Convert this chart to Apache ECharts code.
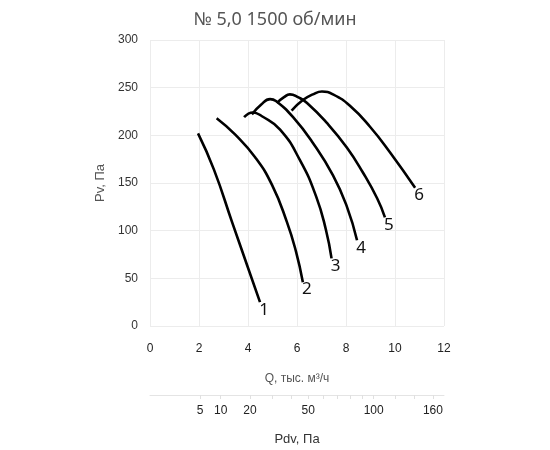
<!DOCTYPE html>
<html><head><meta charset="utf-8">
<script src="https://cdn.jsdelivr.net/npm/echarts@6/dist/echarts.min.js"></script>
<style>html,body{margin:0;padding:0;background:#fff}#c{width:550px;height:450px}</style>
</head><body><div id="c"></div>
<script>
const titleText = '№ 5,0 1500 об/мин';
const curveNames = ['1','2','3','4','5','6'];
const curve1 = [[1.96,202],[2.61,164],[3.35,109],[3.96,64],[4.49,25]];
const curve2 = [[2.72,218],[3.47,201],[4.29,177],[4.98,148],[5.59,109],[5.96,78],[6.24,46]];
const curve3 = [[3.84,219],[4.20,224],[4.57,220],[5.31,206],[6.12,174],[6.78,136],[7.18,101],[7.41,71]];
const curve4 = [[4.16,222],[4.53,232],[4.90,238],[5.14,236],[5.84,219],[6.65,192],[7.47,158],[8.04,125],[8.45,90]];
const curve5 = [[5.18,234],[5.47,240],[5.71,243],[6.04,240],[6.41,234],[7.22,213],[8.04,187],[8.69,161],[9.27,134],[9.59,114]];
const curve6 = [[5.78,226],[6.24,237],[6.65,243],[7.02,246],[7.47,243],[8.16,231],[8.98,209],[9.80,182],[10.82,145]];
const curves = [curve1,curve2,curve3,curve4,curve5,curve6];
const pdvLabels = [5,10,20,50,100,160];
const pdvTicks = [5,10,20,30,40,50,60,70,80,90,100,120,140,160];
const pdvK = 1.2; // Pdv = k * Q^2
const qOf = p => Math.sqrt(p / pdvK);

const chart = echarts.init(document.getElementById('c'));
const series = curves.map((c, i) => ({
  type: 'line', xAxisIndex: 0, yAxisIndex: 0, smooth: 0.5,
  symbol: 'circle', symbolSize: 0.01, showSymbol: true, showAllSymbol: true,
  itemStyle: {color: 'rgba(0,0,0,0)'},
  lineStyle: {color: '#000', width: 2.6},
  label: {show: false},
  data: c.map((p, j) => j === c.length - 1 ? {
    value: p,
    label: {show: true, formatter: curveNames[i], position: 'bottom', distance: 0, offset: [4, -1],
      color: '#111', fontSize: 17, fontFamily: 'Noto Sans'}
  } : p),
  silent: true, animation: false
}));
chart.setOption({
  animation: false,
  title: {text: titleText, left: 'center', top: 6,
    textStyle: {fontFamily: 'Noto Sans', fontWeight: 'normal', fontSize: 18, color: '#555'}},
  grid: [
    {left: 150, right: 106, top: 40, bottom: 124},
    {left: 150, right: 106, top: 394, height: 1}
  ],
  xAxis: [
    {type: 'value', gridIndex: 0, min: 0, max: 12, interval: 2,
     name: 'Q, тыс. м³/ч', nameLocation: 'middle', nameGap: 47,
     nameTextStyle: {color: '#555', fontSize: 12, fontFamily: 'Liberation Sans'},
     axisLine: {show: false}, axisTick: {show: false},
     axisLabel: {color: '#222', fontSize: 12, margin: 17, fontFamily: 'Liberation Sans'},
     splitLine: {lineStyle: {color: '#ececec'}}},
    {type: 'value', gridIndex: 1, min: 0, max: 12, position: 'bottom',
     name: 'Pdv, Па', nameLocation: 'middle', nameGap: 38,
     nameTextStyle: {color: '#333', fontSize: 13, fontFamily: 'Liberation Sans'},
     axisLine: {show: true, lineStyle: {color: '#e4e4e4'}},
     axisTick: {show: true, customValues: pdvTicks.map(qOf), length: 4, lineStyle: {color: '#e0e0e0'}},
     axisLabel: {customValues: pdvLabels.map(qOf), color: '#222', fontSize: 12, margin: 10,
       fontFamily: 'Liberation Sans',
       formatter: v => String(Math.round(pdvK * v * v))},
     splitLine: {show: false}}
  ],
  yAxis: [
    {type: 'value', gridIndex: 0, min: 0, max: 300, interval: 50,
     name: 'Pv, Па', nameLocation: 'middle', nameGap: 32, nameRotate: 90,
     nameTextStyle: {color: '#555', fontSize: 13, fontFamily: 'Liberation Sans'},
     axisLine: {show: false}, axisTick: {show: false},
     axisLabel: {color: '#333', fontSize: 12, margin: 12, fontFamily: 'Liberation Sans'},
     splitLine: {lineStyle: {color: '#ececec'}}},
    {type: 'value', gridIndex: 1, show: false}
  ],
  series: series
});
</script></body></html>
